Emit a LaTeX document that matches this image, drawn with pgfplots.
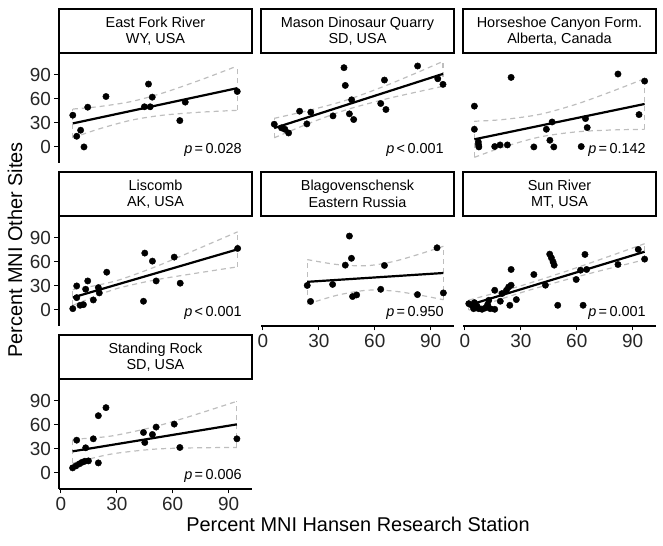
\documentclass[border=0pt]{standalone}
\usepackage{fontspec}
\setmainfont{Liberation Sans}
\usepackage{pgfplots}
\pgfplotsset{compat=1.18}
\definecolor{bandgray}{RGB}{190,190,190}
\pgfplotsset{
 panel/.style={
  width=193bp, height=110bp, scale only axis,
  xmin=-1, xmax=102.5, ymin=-20, ymax=117,
  axis lines*=left, axis line style={-, line width=1.1bp, black},
  xtick={0,30,60,90}, ytick={0,30,60,90},
  tick align=outside, major tick length=4.5bp,
  tick style={line width=1.1bp, black},
  /pgf/number format/assume math mode=true,
  tick label style={font=\fontsize{19}{19}\selectfont, text=black!85},
  clip=false, anchor=north west,
 },
 pts/.style={only marks, mark=*, mark size=3.2bp, mark options={draw=black, fill=black}},
 fit/.style={no marks, line width=2.2bp, black},
 band/.style={no marks, line width=1.2bp, bandgray, dash pattern=on 5bp off 4bp},
 bandc/.style={band, smooth},
}
\newcommand{\strip}[2]{\draw[line width=1.3bp, fill=white] (rel axis cs:0,1) rectangle ([yshift=44bp]rel axis cs:1,1); \node[align=center, font=\fontsize{14.5}{16.5}\selectfont] at ([yshift=22bp]rel axis cs:0.5,1) {#1\\#2};}
\newcommand{\pval}[1]{\node[anchor=east, font=\fontsize{14.5}{16.5}\selectfont] at (rel axis cs:0.965,0.12) {#1};}
\begin{document}
\begin{tikzpicture}
\path[use as bounding box] (0,0) rectangle (663bp,546bp);
% ---------- East Fork River ----------
\begin{axis}[panel, at={(59bp,493bp)}, hide x axis]
\addplot[bandc] coordinates {(6.4,47.2)(20,50.1)(37.7,56.5)(55,67.4)(75,83.5)(94.6,100.8)};
\addplot[bandc] coordinates {(6.4,11.4)(20,22.1)(37.7,33.3)(55,39.6)(75,43.3)(94.6,45.6)};
\addplot[band] coordinates {(6.4,11.4)(6.4,47.2)};
\addplot[band] coordinates {(94.6,45.6)(94.6,100.8)};
\addplot[fit] coordinates {(6.4,29.3)(94.6,73.2)};
\addplot[pts] coordinates {(6.4,39.5)(8.5,13.3)(10.6,20.8)(12.4,0)(14.4,49.5)(24.2,62.8)(44.8,50)(47,78.3)(47.9,50)(49,62)(63.8,32.8)(66.7,55.8)(94.6,69.1)};
\strip{East Fork River}{WY, USA}
\pval{\textit{p}\,=\,0.028}
\end{axis}
% ---------- Mason Dinosaur Quarry ----------
\begin{axis}[panel, at={(261bp,493bp)}, hide x axis, hide y axis]
\addplot[bandc] coordinates {(6.1,35.6)(25,45.7)(44.55,58.1)(65,75.5)(80,89.9)(96.6,106.5)};
\addplot[bandc] coordinates {(6.1,11.4)(25,29.6)(44.55,46.1)(65,59.1)(80,67.1)(96.6,75.5)};
\addplot[band] coordinates {(6.1,11.4)(6.1,35.6)};
\addplot[band] coordinates {(96.6,75.5)(96.6,106.5)};
\addplot[fit] coordinates {(6.1,23.5)(96.6,91)};
\addplot[pts] coordinates {(6.1,28.3)(10,23.7)(11.8,22)(13.8,17.4)(19.7,44.5)(23.6,28.7)(25.7,43.3)(37.6,38.7)(43.5,98.7)(44.2,76.6)(46.4,41.2)(47.6,58.7)(48.7,34.1)(63.2,54.1)(66,46.6)(65.2,83.3)(83,100.8)(93.8,84.9)(96.6,77.9)};
\strip{Mason Dinosaur Quarry}{SD, USA}
\pval{\textit{p}\,<\,0.001}
\end{axis}
% ---------- Horseshoe Canyon Form. ----------
\begin{axis}[panel, at={(463bp,493bp)}, hide x axis, hide y axis]
\addplot[bandc] coordinates {(5.1,32)(20,34)(40,40.5)(60,53.4)(80,70.2)(96.4,85.1)};
\addplot[bandc] coordinates {(5.1,-13)(20,-0.6)(40,12.3)(60,18.8)(80,21.2)(96.4,21.9)};
\addplot[band] coordinates {(5.1,-13)(5.1,32)};
\addplot[band] coordinates {(96.4,21.9)(96.4,85.1)};
\addplot[fit] coordinates {(5.1,9.5)(96.4,53.5)};
\addplot[pts] coordinates {(5.1,50.8)(5.1,22)(7.2,6.2)(7.3,3)(7.5,0)(16,0.5)(18.9,2.5)(22.8,2.5)(24.8,86.6)(37,0)(43.7,22)(46.8,31.1)(45.6,8.3)(47.7,0)(62.4,0.5)(64.7,35.3)(65.6,24.1)(82.1,90.8)(93.4,40.3)(96.4,82)};
\strip{Horseshoe Canyon Form.}{Alberta, Canada}
\pval{\textit{p}\,=\,0.142}
\end{axis}
% ---------- Liscomb ----------
\begin{axis}[panel, at={(59bp,330bp)}, hide x axis]
\addplot[bandc] coordinates {(6.4,25.3)(20,31)(31.4,37.5)(50,53.1)(70,72.6)(94.8,97.3)};
\addplot[bandc] coordinates {(6.4,5.7)(20,18.4)(31.4,27.5)(50,37.1)(70,44.8)(94.8,53.7)};
\addplot[band] coordinates {(6.4,5.7)(6.4,25.3)};
\addplot[band] coordinates {(94.8,53.7)(94.8,97.3)};
\addplot[fit] coordinates {(6.4,15.5)(94.8,75.5)};
\addplot[pts] coordinates {(6.4,1.6)(8.5,29.9)(8.5,15.3)(10.3,5.8)(12.1,6.6)(13.3,25.8)(14.4,36.1)(17.4,12.4)(20.1,27.8)(20.6,21.2)(24.6,47)(44.3,10.8)(45,70.8)(49.1,60.8)(51.1,36.1)(60.8,65.8)(64,33.3)(94.8,76.6)};
\strip{Liscomb}{AK, USA}
\pval{\textit{p}\,<\,0.001}
\end{axis}
% ---------- Blagovenschensk ----------
\begin{axis}[panel, at={(261bp,330bp)}, hide y axis]
\addplot[bandc] coordinates {(23.8,62.7)(40,56.5)(55.75,55.1)(70,60.3)(85,70.3)(96.8,79.3)};
\addplot[bandc] coordinates {(23.8,7.3)(40,18.4)(55.75,24.5)(70,23.5)(85,18.1)(96.8,12.7)};
\addplot[band] coordinates {(23.8,7.3)(23.8,62.7)};
\addplot[band] coordinates {(96.8,12.7)(96.8,79.3)};
\addplot[fit] coordinates {(23.8,35)(96.8,46)};
\addplot[pts] coordinates {(23.8,30.5)(25.6,10.6)(37.4,31.8)(44.2,55.8)(46.4,92)(47.5,64.3)(48.1,16.7)(50.3,18.7)(63.2,25.7)(65.2,55.4)(82.9,19.1)(93.4,77.4)(96.8,21.2)};
\strip{Blagovenschensk}{Eastern Russia}
\pval{\textit{p}\,=\,0.950}
\end{axis}
% ---------- Sun River ----------
\begin{axis}[panel, at={(463bp,330bp)}, hide y axis]
\addplot[bandc] coordinates {(2.1,12.25)(20,23.4)(33.6,32.6)(55,48.7)(75,64.8)(96.4,82.5)};
\addplot[bandc] coordinates {(2.1,-0.25)(20,14)(33.6,24)(55,38.1)(75,50.2)(96.4,62.5)};
\addplot[band] coordinates {(2.1,-0.25)(2.1,12.25)};
\addplot[band] coordinates {(96.4,62.5)(96.4,82.5)};
\addplot[fit] coordinates {(2.1,6)(96.4,72.5)};
\addplot[pts] coordinates {(2.1,7.8)(3.8,5.8)(5.1,9.1)(4.7,1.6)(6.5,4.9)(7.4,1.6)(9.2,0.8)(10.9,2.4)(12.2,6.6)(13.6,1.6)(12.8,12)(16,24.5)(16,0.8)(19,10.8)(19.9,20.4)(22.3,24.5)(23.5,28.6)(24.1,5.8)(24.8,30.8)(24.8,50.4)(27.6,12.9)(37,44.1)(43.2,30.8)(45.5,69.5)(46.4,64.9)(47.3,59.9)(47.9,55.8)(49.8,5.8)(59.7,37.9)(62,49.5)(63.4,5.8)(64.4,69.1)(65.3,50.4)(82.1,56.6)(93,75.4)(96.4,63.3)};
\strip{Sun River}{MT, USA}
\pval{\textit{p}\,=\,0.001}
\end{axis}
% ---------- Standing Rock ----------
\begin{axis}[panel, at={(59bp,167bp)}]
\addplot[bandc] coordinates {(6.3,41.9)(20,44.1)(30.3,47.3)(50,57.4)(70,71)(94.4,89.25)};
\addplot[bandc] coordinates {(6.3,11.9)(20,20.1)(30.3,24.7)(50,29.6)(70,31.2)(94.4,31.75)};
\addplot[band] coordinates {(6.3,11.9)(6.3,41.9)};
\addplot[band] coordinates {(94.4,31.75)(94.4,89.25)};
\addplot[fit] coordinates {(6.3,26.9)(94.4,60.5)};
\addplot[pts] coordinates {(6.3,6.3)(8.1,8.8)(8.5,40.8)(9.9,11.3)(11.4,13.3)(12.9,14.6)(13.3,31.3)(14.8,15)(17.4,42.5)(20.1,12.5)(20.1,71.3)(24.2,81.3)(44.3,50.4)(45,37.9)(49.1,47.9)(51.1,57.1)(60.8,60.8)(63.8,31.7)(94.4,42.5)};
\strip{Standing Rock}{SD, USA}
\pval{\textit{p}\,=\,0.006}
\end{axis}
% ---------- axis titles ----------
\node[font=\fontsize{20}{20}\selectfont] at (358bp,22bp) {Percent MNI Hansen Research Station};
\node[rotate=90, font=\fontsize{20}{20}\selectfont] at (15bp,296bp) {Percent MNI Other Sites};
\end{tikzpicture}
\end{document}
